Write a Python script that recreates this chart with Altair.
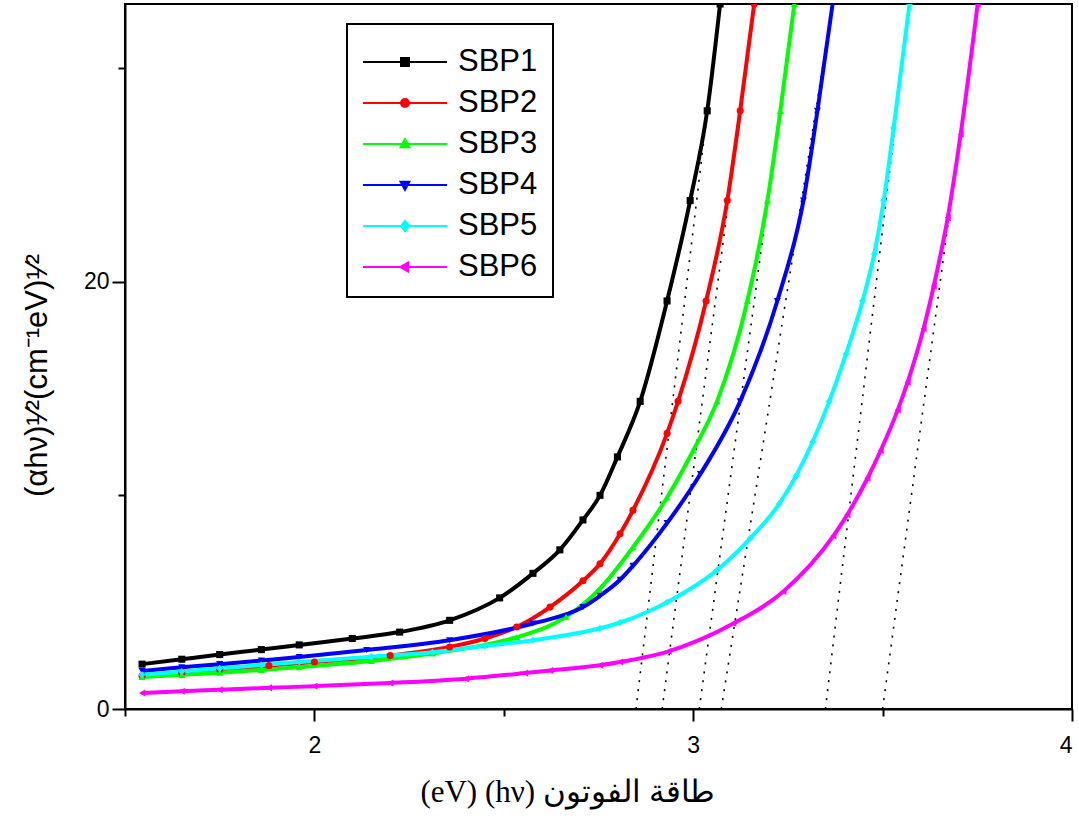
import altair as alt
import pandas as pd

series = ["SBP1", "SBP2", "SBP3", "SBP4", "SBP5", "SBP6"]
colors = ["#000000", "#ff0000", "#00ff00", "#0000ff", "#00ffff", "#ff00ff"]
shapes = ["square", "circle", "triangle-up", "triangle-down", "diamond", "triangle-left"]

# photon energy (eV) and (alpha h nu)^1/2
sbp1_x = [1.545, 1.65, 1.75, 1.86, 1.96, 2.1, 2.225, 2.357, 2.489, 2.577, 2.648, 2.709, 2.754, 2.80, 2.86, 2.931, 2.992, 3.037, 3.071]
sbp1_y = [2.1, 2.33, 2.55, 2.78, 3.0, 3.3, 3.6, 4.15, 5.2, 6.35, 7.45, 8.85, 10.0, 11.8, 14.4, 19.1, 23.8, 28.0, 33.0]

sbp2_x = [1.545, 1.65, 1.75, 1.88, 2.0, 2.2, 2.357, 2.45, 2.534, 2.622, 2.709, 2.754, 2.807, 2.841, 2.931, 2.96, 3.034, 3.09, 3.124, 3.161]
sbp2_y = [1.55, 1.7, 1.85, 2.03, 2.2, 2.5, 2.9, 3.3, 3.84, 4.77, 6.0, 6.8, 8.2, 9.3, 12.9, 14.4, 19.1, 23.8, 28.0, 33.0]

sbp3_x = [1.545, 1.65, 1.75, 1.86, 1.96, 2.15, 2.312, 2.45, 2.534, 2.664, 2.752, 2.841, 2.931, 3.0, 3.063, 3.143, 3.196, 3.23, 3.267]
sbp3_y = [1.5, 1.6, 1.7, 1.83, 1.96, 2.25, 2.6, 3.0, 3.36, 4.31, 5.6, 7.57, 9.9, 12.1, 14.4, 19.1, 23.8, 28.0, 33.0]

sbp4_x = [1.545, 1.65, 1.75, 1.86, 1.96, 2.138, 2.357, 2.577, 2.709, 2.754, 2.807, 2.841, 2.931, 3.019, 3.124, 3.222, 3.291, 3.328, 3.368]
sbp4_y = [1.78, 1.95, 2.1, 2.27, 2.43, 2.76, 3.22, 4.0, 4.77, 5.3, 6.05, 6.7, 8.7, 11.0, 14.4, 19.1, 23.8, 28.0, 33.0]

sbp5_x = [1.545, 1.65, 1.75, 1.86, 1.96, 2.15, 2.312, 2.45, 2.577, 2.754, 2.807, 2.931, 3.063, 3.151, 3.227, 3.271, 3.315, 3.359, 3.403, 3.447, 3.478, 3.503, 3.529, 3.571]
sbp5_y = [1.6, 1.75, 1.9, 2.06, 2.2, 2.45, 2.66, 2.95, 3.22, 3.78, 4.05, 5.0, 6.5, 8.0, 9.6, 10.9, 12.5, 14.4, 16.6, 19.1, 21.3, 23.8, 27.2, 33.0]

sbp6_x = [1.545, 1.65, 1.75, 1.88, 2.0, 2.2, 2.4, 2.556, 2.622, 2.754, 2.807, 2.935, 3.106, 3.238, 3.37, 3.407, 3.46, 3.495, 3.54, 3.566, 3.608, 3.635, 3.672, 3.706, 3.751]
sbp6_y = [0.75, 0.83, 0.9, 0.99, 1.07, 1.22, 1.42, 1.68, 1.8, 2.05, 2.2, 2.7, 4.0, 5.5, 8.1, 9.1, 10.8, 12.1, 14.0, 15.3, 17.8, 19.8, 23.0, 26.9, 33.0]

# linear extrapolations (dotted): x-intercept (band gap) and x at top of plot
tangent_x0 = [2.849, 2.918, 3.016, 3.074, 3.349, 3.500]
tangent_x1 = [3.071, 3.161, 3.267, 3.368, 3.571, 3.751]
tangent_y = [0.0, 33.0]

x_ticks = [1.5, 2, 2.5, 3, 3.5, 4]
y_ticks = [0, 10, 20, 30]

xs_all = [sbp1_x, sbp2_x, sbp3_x, sbp4_x, sbp5_x, sbp6_x]
ys_all = [sbp1_y, sbp2_y, sbp3_y, sbp4_y, sbp5_y, sbp6_y]

rows = []
for name, xs, ys in zip(series, xs_all, ys_all):
    for i, (xv, yv) in enumerate(zip(xs, ys)):
        rows.append({"series": name, "E": xv, "v": yv, "order": i})
df = pd.DataFrame(rows)

trows = []
for name, a, b in zip(series, tangent_x0, tangent_x1):
    trows.append({"series": name, "E": a, "v": tangent_y[0]})
    trows.append({"series": name, "E": b, "v": tangent_y[1]})
tdf = pd.DataFrame(trows)

# legend symbols: a line segment with the marker in the middle
L = "M-1,0L4.25,0"
legend_paths = [
    L + "M1.375,-0.25L1.875,-0.25L1.875,0.25L1.375,0.25Z",
    L + "M1.875,0A0.25,0.25,0,1,1,1.375,0A0.25,0.25,0,1,1,1.875,0Z",
    L + "M1.625,-0.3L1.9,0.2L1.35,0.2Z",
    L + "M1.625,0.3L1.9,-0.2L1.35,-0.2Z",
    L + "M1.625,-0.32L1.88,0L1.625,0.32L1.37,0Z",
    L + "M1.32,0L1.82,-0.28L1.82,0.28Z",
]

xsc = alt.Scale(domain=[1.5, 4.0], nice=False, zero=False)
ysc = alt.Scale(domain=[0, 33], nice=False, zero=False)
csc = alt.Scale(domain=series, range=colors)

x_axis = alt.Axis(
    values=x_ticks,
    labelExpr="datum.value % 1 === 0 ? '' + datum.value : ''",
    tickSize={"condition": {"test": "datum.value % 1 === 0", "value": 12}, "value": 7},
    title="(eV) (hν) طاقة الفوتون",
    titleFont="Liberation Serif",
    titleFontSize=31,
    titleFontWeight="normal",
    titleX=442,
    titleY=92,
    titleAlign="center",
    titleBaseline="alphabetic",
    labelPadding=13,
)
y_axis = alt.Axis(
    values=y_ticks,
    labelExpr="datum.value % 20 === 0 ? '' + datum.value : ''",
    tickSize={"condition": {"test": "datum.value % 20 === 0", "value": 13}, "value": 7},
    title="(αhν)¹⁄²(cm⁻¹eV)¹⁄²",
    titleFont="Liberation Sans",
    titleFontSize=31,
    titleFontWeight="normal",
    titleAngle=270,
    titleX=-79,
    titleY=371,
    titleAlign="center",
    titleBaseline="alphabetic",
    labelPadding=3,
)

X = alt.X("E:Q", scale=xsc, axis=x_axis)
Y = alt.Y("v:Q", scale=ysc, axis=y_axis)

tangents = alt.Chart(tdf).mark_line(
    strokeDash=[2, 7], strokeWidth=1.6, color="black", clip=True
).encode(x=X, y=Y, detail="series:N")

lines = alt.Chart(df).mark_line(strokeWidth=4, interpolate="monotone", clip=True).encode(
    x=X, y=Y, color=alt.Color("series:N", scale=csc, legend=None), order="order:Q"
)

points = alt.Chart(df).mark_point(filled=True, size=50, opacity=1, clip=True).encode(
    x=X,
    y=Y,
    color=alt.Color("series:N", scale=csc, legend=None),
    shape=alt.Shape("series:N", scale=alt.Scale(domain=series, range=shapes), legend=None),
)

leg = alt.Legend(
    title=" ",
    titleFontSize=2,
    titlePadding=4,
    orient="none",
    legendX=222,
    legendY=20,
    padding=15,
    strokeColor="black",
    fillColor="white",
    symbolSize=1024,
    symbolStrokeWidth=2,
    symbolOpacity=1,
    labelFont="Liberation Sans",
    labelFontSize=31,
    labelOffset=62,
    rowPadding=9,
    labelExpr="datum.label + '\u00a0\u00a0'",
)

legend_layer = alt.Chart(df).transform_filter("false").mark_point(
    filled=True, strokeWidth=2, opacity=1
).encode(
    x=X,
    y=Y,
    fill=alt.Fill("series:N", scale=alt.Scale(domain=series, range=colors), legend=leg),
    stroke=alt.Stroke("series:N", scale=alt.Scale(domain=series, range=colors), legend=leg),
    shape=alt.Shape("series:N", scale=alt.Scale(domain=series, range=legend_paths), legend=leg),
)

chart = (
    alt.layer(tangents, lines, points, legend_layer)
    .resolve_scale(shape="independent", fill="independent", stroke="independent")
    .properties(
        width=947,
        height=705,
        autosize=alt.AutoSizeParams(type="none"),
        padding={"left": 125, "top": 4, "right": 7, "bottom": 109},
        background="white",
    )
    .configure_view(stroke="black", strokeWidth=2)
    .configure_legend(strokeWidth=2)
    .configure_axis(
        grid=False,
        domainColor="black",
        domainWidth=2,
        tickColor="black",
        tickWidth=2,
        labelFont="Liberation Sans",
        labelFontSize=23,
        labelColor="black",
        titleColor="black",
    )
)

chart.save("out.html", embed_options={"renderer": "svg", "actions": False})
